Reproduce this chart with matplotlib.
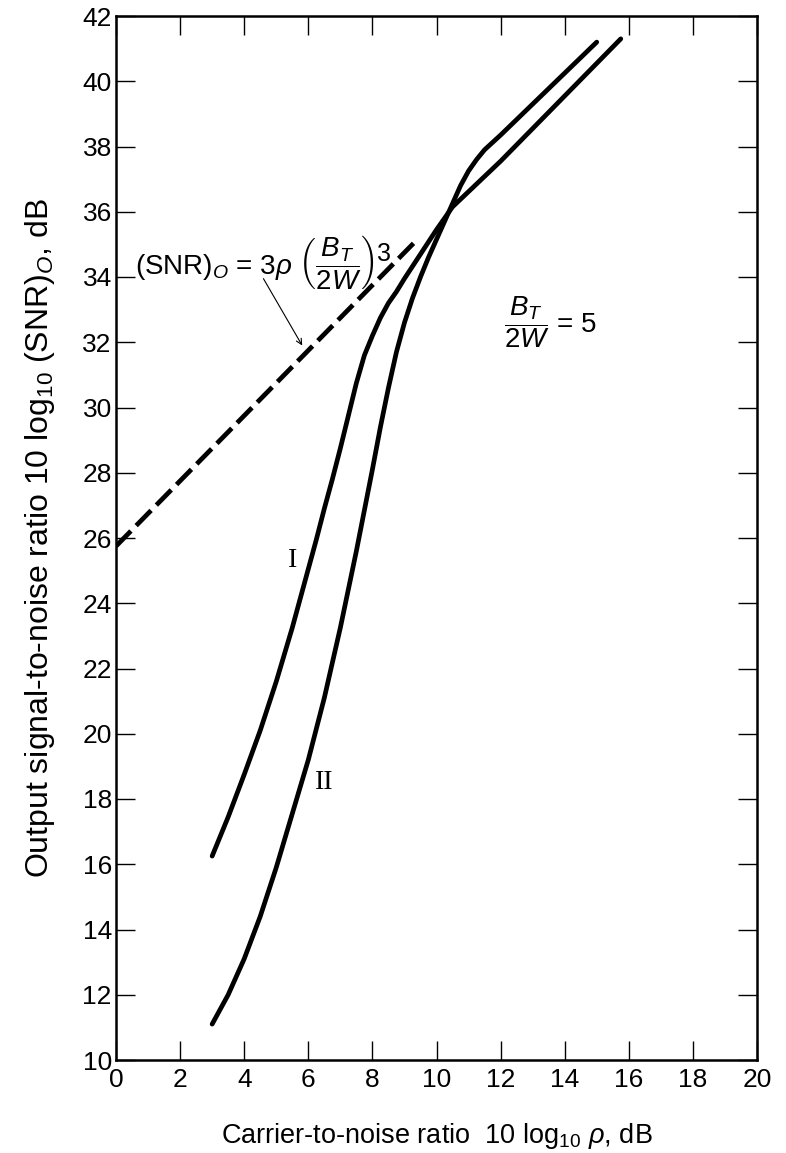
import numpy as np
import matplotlib
matplotlib.use("Agg")
import matplotlib.pyplot as plt

plt.rcParams["font.family"] = ["Liberation Sans", "DejaVu Sans"]
plt.rcParams["mathtext.fontset"] = "custom"
plt.rcParams["mathtext.rm"] = "Liberation Sans"
plt.rcParams["mathtext.it"] = "Liberation Sans:italic"
plt.rcParams["mathtext.bf"] = "Liberation Sans:bold"

# curve I
x_one = [3.0, 3.5, 4.0, 4.5, 5.0, 5.5, 6.0, 6.25, 6.5, 6.75, 7.0, 7.25, 7.5, 7.75,
         8.0, 8.25, 8.5, 8.75, 9.0, 9.5, 10.0, 10.5, 12.0, 14.0, 15.75]
y_one = [16.25, 17.45, 18.75, 20.1, 21.6, 23.25, 25.05, 25.95, 26.9, 27.8, 28.75,
         29.75, 30.75, 31.6, 32.2, 32.75, 33.2, 33.55, 33.95, 34.7, 35.45, 36.15,
         37.55, 39.55, 41.3]

# curve II
x_two = [3.0, 3.5, 4.0, 4.5, 5.0, 5.5, 6.0, 6.5, 7.0, 7.5, 7.75, 8.0, 8.25, 8.5,
         8.75, 9.0, 9.25, 9.5, 9.75, 10.0, 10.25, 10.5, 10.75, 11.0, 11.25, 11.5,
         12.0, 13.0, 14.0, 15.0]
y_two = [11.1, 12.0, 13.1, 14.4, 15.9, 17.55, 19.2, 21.1, 23.25, 25.6, 26.85, 28.1,
         29.4, 30.6, 31.7, 32.6, 33.35, 34.0, 34.6, 35.15, 35.7, 36.25, 36.8, 37.25,
         37.6, 37.9, 38.35, 39.3, 40.25, 41.2]

# asymptote (SNR)_O = 3 rho (BT/2W)^3, dashed part
x_dash = [0.0, 9.4]
y_dash = [25.75, 35.15]

xticks = np.arange(0, 21, 2)
yticks = np.arange(10, 43, 2)

fig = plt.figure(figsize=(7.86, 11.53), dpi=100)
ax = fig.add_axes([116 / 786, 1 - 1060 / 1153, 641 / 786, (1060 - 16) / 1153])

ax.plot(x_dash, y_dash, color="black", lw=3.4, dashes=(4.5, 1.6),
        solid_capstyle="butt", dash_capstyle="butt")
ax.plot(x_one, y_one, color="black", lw=3.4, solid_capstyle="round")
ax.plot(x_two, y_two, color="black", lw=3.4, solid_capstyle="round")

ax.set_xlim(0, 20)
ax.set_ylim(10, 42)
ax.set_xticks(xticks)
ax.set_yticks(yticks)
ax.tick_params(direction="in", length=14, width=1, top=True, right=True,
               labelsize=19, pad=3)
ax.tick_params(axis="x", pad=6)
for s in ax.spines.values():
    s.set_linewidth(1.8)

ax.set_xlabel(r"Carrier-to-noise ratio  10 log$_{10}$ $\rho$, dB", fontsize=19.5)
ax.xaxis.set_label_coords(0.5, -0.058)
ax.set_ylabel(r"Output signal-to-noise ratio 10 log$_{10}$ (SNR)$_O$, dB",
              fontsize=23)
ax.yaxis.set_label_coords(-0.092, 0.5)

ax.text(0.6, 34.45, r"(SNR)$_O$ = 3$\rho$ $\left(\dfrac{B_T}{2W}\right)$",
        fontsize=20, va="center", ha="left")
ax.text(8.15, 34.7, "3", fontsize=18, va="center", ha="left")
ax.annotate("", xy=(5.81, 31.9), xytext=(4.6, 33.95),
            arrowprops=dict(arrowstyle="->", lw=0.8, color="black",
                            shrinkA=0, shrinkB=0))
ax.text(12.1, 32.6, r"$\dfrac{B_T}{2W}$ = 5", fontsize=20, va="center", ha="left")

ax.text(5.5, 25.3, "I", fontsize=20, family=["Liberation Serif"],
        ha="center", va="center")
ax.text(6.5, 18.5, "II", fontsize=20, family=["Liberation Serif"],
        ha="center", va="center")

fig.savefig("out.png", dpi=100)
